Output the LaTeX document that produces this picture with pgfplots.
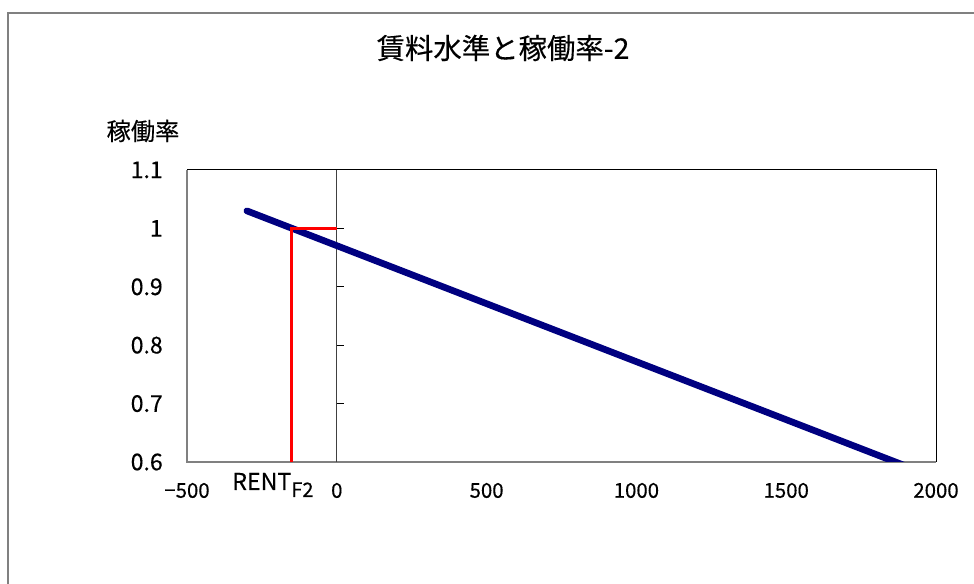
\documentclass[border=0pt]{standalone}
\usepackage{fontspec}
\setmainfont{Noto Sans CJK JP}[FakeBold=0.3]
\usepackage{pgfplots}
\pgfplotsset{compat=1.18}
\definecolor{navyline}{RGB}{0,0,128}
\definecolor{framegray}{RGB}{128,128,128}
\begin{document}
\begin{tikzpicture}[x=0.75pt,y=0.75pt]
\useasboundingbox (0,0) rectangle (974,584);
% outer chart frame (left and top visible)
\draw[framegray, line width=1.5pt] (8,-5) -- (8,571) -- (980,571);
\begin{axis}[
  at={(140.25pt,91.5pt)}, anchor=south west,
  scale only axis, width=561.75pt, height=219pt,
  xmin=-500, xmax=2000, ymin=0.6, ymax=1.1,
  xtick={-500,0,500,1000,1500,2000},
  xticklabels={−500,0,500,1000,1500,2000},
  ytick={0.6,0.7,0.8,0.9,1.0,1.1},
  yticklabels={0.6,0.7,0.8,0.9,1,1.1},
  major tick length=0pt,
  axis line style={draw=none},
  clip mode=individual,
  xticklabel style={font=\fontsize{15.3}{15.3}\selectfont, anchor=north, inner sep=0pt, yshift=-15.5pt},
  yticklabel style={font=\fontsize{17.3}{17.3}\selectfont, anchor=east, inner sep=0pt, xshift=-18pt},
]
% plot area borders
\draw[framegray, line width=0.9pt] (rel axis cs:0,1) -- (rel axis cs:0,0) -- (rel axis cs:1,0);
\draw[black, line width=0.75pt] (rel axis cs:0,1) -- (rel axis cs:1,1) -- (rel axis cs:1,0);
% vertical value axis at x = 0
\draw[black!75, line width=0.75pt] (axis cs:0,0.6) -- (axis cs:0,1.1);
\draw[black, line width=0.75pt] (axis cs:0,0.7) -- ++(5.25pt,0pt);
\draw[black, line width=0.75pt] (axis cs:0,0.8) -- ++(5.25pt,0pt);
\draw[black, line width=0.75pt] (axis cs:0,0.9) -- ++(5.25pt,0pt);
\draw[black, line width=0.75pt] (axis cs:0,1.0) -- ++(5.25pt,0pt);
% demand line
\addplot[navyline, line width=5pt, line cap=round] coordinates {(-300,1.03) (1900,0.593)};
% RENT_F2 guide lines
\addplot[red, line width=2.25pt] coordinates {(-150,0.6) (-150,1.0) (0,1.0)};
\end{axis}
\node[font=\fontsize{21.3}{21.3}\selectfont, inner sep=0pt] at (503,536) {賃料水準と稼働率-2};
\node[font=\fontsize{18.2}{18.2}\selectfont, inner sep=0pt] at (143,453) {稼働率};
\node[anchor=base west, inner sep=0pt, font=\fontsize{17.4}{17.4}\selectfont] at (232,94) {RENT\raisebox{-5.25pt}{\fontsize{15}{15}\selectfont F2}};
\end{tikzpicture}
\end{document}
